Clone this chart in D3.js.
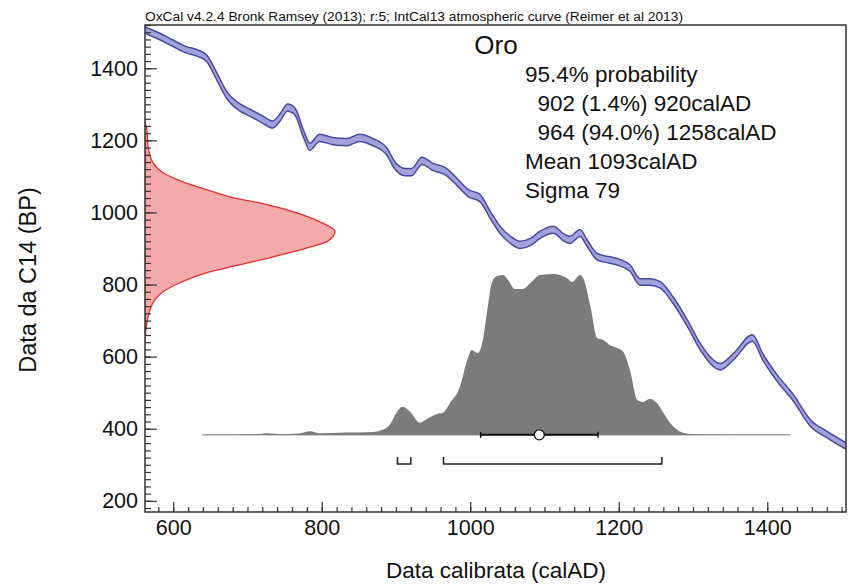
<!DOCTYPE html>
<html>
<head>
<meta charset="utf-8">
<script src="https://cdn.jsdelivr.net/npm/d3@7"></script>
<style>
  body { margin: 0; background: #fff; }
  text { font-family: "Liberation Sans", Arial, Helvetica, sans-serif; fill: #111; }
</style>
</head>
<body>
<svg id="chart" width="849" height="586"></svg>
<script>
// calibration curve (IntCal13)
const calYears = [560, 582, 599, 618, 633, 645, 659, 672, 690, 703, 721, 734, 744, 754, 764, 775, 784, 797, 815, 834, 851, 869, 888, 898, 912, 921, 935, 950, 966, 982, 997, 1013, 1027, 1040, 1054, 1067, 1081, 1094, 1112, 1125, 1134, 1148, 1157, 1171, 1188, 1202, 1215, 1229, 1242, 1256, 1273, 1292, 1310, 1337, 1354, 1380, 1394, 1413, 1435, 1458, 1481, 1508];
const calBP = [1508, 1488, 1470, 1451, 1442, 1428, 1376, 1326, 1291, 1277, 1257, 1244, 1264, 1291, 1280, 1221, 1182, 1207, 1198, 1195, 1207, 1195, 1168, 1132, 1112, 1112, 1143, 1126, 1115, 1085, 1054, 1040, 993, 952, 924, 910, 918, 938, 952, 932, 924, 943, 916, 877, 868, 860, 846, 807, 807, 799, 757, 694, 627, 572, 599, 652, 599, 541, 486, 416, 383, 350];
const calErr = [9, 9, 9, 9, 9, 9, 10, 10, 10, 10, 10, 10, 10, 10, 10, 10, 10, 10, 10, 10, 10, 10, 10, 10, 10, 10, 10, 10, 10, 10, 10, 10, 10, 10, 10, 10, 10, 10, 10, 10, 10, 10, 9, 9, 9, 9, 9, 9, 9, 9, 9, 9, 9, 9, 9, 9, 9, 9, 9, 9, 9, 9];

// radiocarbon measurement (red), relative density
const measBP = [1249, 1230, 1183, 1138, 1110, 1085, 1063, 1041, 1022, 999, 974, 947, 919, 902, 877, 855, 833, 805, 780, 758, 730, 694, 639];
const measProb = [0, 0.01, 0.016, 0.042, 0.095, 0.2, 0.326, 0.463, 0.642, 0.8, 0.921, 1.0, 0.958, 0.853, 0.674, 0.5, 0.326, 0.184, 0.095, 0.053, 0.026, 0.01, 0];

// calibrated distribution (grey), relative density
const distYears = [639, 716, 727, 743, 770, 784, 797, 834, 869, 881, 892, 901, 909, 919, 932, 942, 955, 963, 973, 986, 996, 1002, 1010, 1017, 1023, 1029, 1036, 1044, 1051, 1060, 1071, 1081, 1094, 1112, 1121, 1130, 1137, 1148, 1152, 1162, 1171, 1179, 1188, 1198, 1206, 1215, 1225, 1233, 1242, 1251, 1260, 1269, 1283, 1296, 1337, 1431];
const distProb = [0, 0.005, 0.01, 0.004, 0.008, 0.022, 0.01, 0.014, 0.018, 0.03, 0.065, 0.14, 0.174, 0.143, 0.075, 0.1, 0.13, 0.137, 0.2, 0.298, 0.466, 0.528, 0.509, 0.59, 0.776, 0.944, 0.988, 0.994, 0.963, 0.907, 0.907, 0.944, 0.994, 1.0, 0.994, 0.975, 0.95, 0.994, 0.975, 0.795, 0.602, 0.59, 0.559, 0.54, 0.516, 0.404, 0.217, 0.205, 0.224, 0.199, 0.137, 0.075, 0.019, 0.006, 0.002, 0];
const distLevelBP = 383;

const rangeFrom = [902, 964];
const rangeTo = [920, 1258];
const meanAD = 1093;
const sigmaAD = 79;

const xTicks = [600, 800, 1000, 1200, 1400];
const yTicks = [200, 400, 600, 800, 1000, 1200, 1400];
const legendLines = ["95.4% probability", "  902 (1.4%) 920calAD", "  964 (94.0%) 1258calAD", "Mean 1093calAD", "Sigma 79"];

const svg = d3.select("#chart");
const plotL = 145, plotR = 846, plotT = 25, plotB = 512;

const x = d3.scaleLinear().domain([562, 1506]).range([plotL, plotR]);
const y = d3.scaleLinear().domain([169, 1520]).range([plotB, plotT]);
const measW = d3.scaleLinear().domain([0, 1]).range([plotL, 335]);
const distH = d3.scaleLinear().domain([0, 1]).range([y(distLevelBP), 274]);

svg.append("clipPath").attr("id", "plot")
    .append("rect").attr("x", plotL).attr("y", plotT).attr("width", plotR - plotL).attr("height", plotB - plotT);

const g = svg.append("g").attr("clip-path", "url(#plot)");

// red measurement on the y axis
const meas = measBP.map((b, i) => ({ bp: b, p: measProb[i] }));
g.append("path")
    .datum(meas)
    .attr("d", d3.area().curve(d3.curveMonotoneY)
        .y(d => y(d.bp)).x0(plotL).x1(d => measW(d.p)))
    .attr("fill", "#f5a9ab")
    .attr("stroke", "#e0302c")
    .attr("stroke-width", 1.3);

// calibration band
const cal = calYears.map((yr, i) => ({ yr: yr, bp: calBP[i], e: calErr[i] }));
g.append("path")
    .datum(cal)
    .attr("d", d3.area().curve(d3.curveMonotoneX)
        .x(d => x(d.yr)).y0(d => y(d.bp - d.e)).y1(d => y(d.bp + d.e)))
    .attr("fill", "#a0a2dc")
    .attr("stroke", "#474b9c")
    .attr("stroke-width", 1.5);

// calibrated distribution
const dist = distYears.map((yr, i) => ({ yr: yr, p: distProb[i] }));
g.append("path")
    .datum(dist)
    .attr("d", d3.area().curve(d3.curveMonotoneX)
        .x(d => x(d.yr)).y0(distH(0)).y1(d => distH(d.p)))
    .attr("fill", "#7b7b7b");

g.append("line")
    .attr("x1", x(distYears[0])).attr("x2", x(distYears[distYears.length - 1]))
    .attr("y1", distH(0)).attr("y2", distH(0))
    .attr("stroke", "#6e6e6e").attr("stroke-width", 1);

// mean and sigma
const yb = distH(0);
g.append("line")
    .attr("x1", x(meanAD - sigmaAD)).attr("x2", x(meanAD + sigmaAD))
    .attr("y1", yb).attr("y2", yb)
    .attr("stroke", "#111").attr("stroke-width", 2);
[meanAD - sigmaAD, meanAD + sigmaAD].forEach(v => {
    g.append("line")
        .attr("x1", x(v)).attr("x2", x(v)).attr("y1", yb - 3).attr("y2", yb + 3)
        .attr("stroke", "#111").attr("stroke-width", 1.5);
});
g.append("circle")
    .attr("cx", x(meanAD)).attr("cy", yb).attr("r", 5)
    .attr("fill", "#fff").attr("stroke", "#111").attr("stroke-width", 1.3);

// 95.4% ranges
const rangeY = 464;
rangeFrom.forEach((from, i) => {
    const to = rangeTo[i];
    g.append("path")
        .attr("d", `M${x(from)},${rangeY - 7}V${rangeY}H${x(to)}V${rangeY - 7}`)
        .attr("fill", "none").attr("stroke", "#222").attr("stroke-width", 1.5);
});

// axes, ticks pointing inward
const minorX = d3.range(580, 1501, 20);
const minorY = d3.range(180, 1521, 20);

svg.append("g")
    .attr("transform", `translate(0,${plotB})`)
    .call(d3.axisBottom(x).tickValues(minorX).tickSize(-5).tickFormat(""))
    .call(a => a.select(".domain").remove());
svg.append("g")
    .attr("transform", `translate(0,${plotB})`)
    .call(d3.axisBottom(x).tickValues(xTicks).tickSize(-10).tickPadding(8).tickFormat(d3.format("d")))
    .call(a => a.select(".domain").remove())
    .call(a => a.selectAll("text").attr("font-size", 21.5).attr("font-family", null));

svg.append("g")
    .attr("transform", `translate(${plotL},0)`)
    .call(d3.axisLeft(y).tickValues(minorY).tickSize(-6).tickFormat(""))
    .call(a => a.select(".domain").remove());
svg.append("g")
    .attr("transform", `translate(${plotL},0)`)
    .call(d3.axisLeft(y).tickValues(yTicks).tickSize(-12).tickPadding(7).tickFormat(d3.format("d")))
    .call(a => a.select(".domain").remove())
    .call(a => a.selectAll("text").attr("font-size", 21.5).attr("font-family", null));

svg.selectAll(".tick line").attr("stroke", "#333").attr("stroke-width", 1.2);

svg.append("rect")
    .attr("x", plotL).attr("y", plotT).attr("width", plotR - plotL).attr("height", plotB - plotT)
    .attr("fill", "none").attr("stroke", "#333").attr("stroke-width", 1.5);

// titles
svg.append("text")
    .attr("x", plotL).attr("y", 21)
    .attr("font-size", 12.5)
    .attr("textLength", 538).attr("lengthAdjust", "spacingAndGlyphs")
    .text("OxCal v4.2.4 Bronk Ramsey (2013); r:5; IntCal13 atmospheric curve (Reimer et al 2013)");

svg.append("text")
    .attr("x", 496).attr("y", 54)
    .attr("text-anchor", "middle").attr("font-size", 26)
    .text("Oro");

svg.append("text")
    .attr("x", 496).attr("y", 578)
    .attr("text-anchor", "middle").attr("font-size", 22.5)
    .text("Data calibrata (calAD)");

svg.append("text")
    .attr("transform", "translate(36,280) rotate(-90)")
    .attr("text-anchor", "middle").attr("font-size", 23.5)
    .text("Data da C14 (BP)");

// result text
svg.append("g").selectAll("text")
    .data(legendLines)
    .join("text")
    .attr("x", 525)
    .attr("y", (d, i) => 82 + i * 29)
    .attr("font-size", 22.5)
    .attr("xml:space", "preserve")
    .style("white-space", "pre")
    .text(d => d);
</script>
</body>
</html>
